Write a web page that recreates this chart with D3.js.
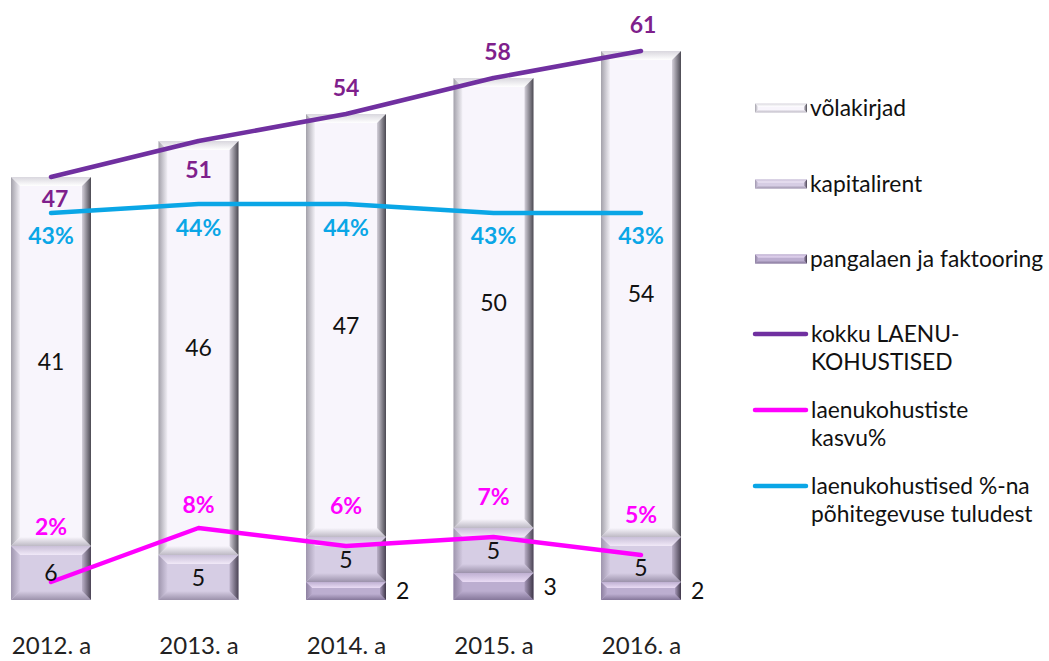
<!DOCTYPE html>
<html><head><meta charset="utf-8">
<script src="https://cdn.jsdelivr.net/npm/d3@7"></script>
<style>
body{margin:0;background:#fff}
svg{display:block}
text{font-family:Lato,"Noto Sans",sans-serif}
</style>
</head><body>
<svg id="c" width="1049" height="661"></svg>
<script>
// ---- data ----
const years = ["2012. a","2013. a","2014. a","2015. a","2016. a"];
const pangalaen = [0,0,2,3,2];          // pangalaen ja faktooring
const kapitalirent = [6,5,5,5,5];
const volakirjad = [41,46,47,50,54];
const kokku = [47,51,54,58,61];          // kokku LAENU-KOHUSTISED
const kasvu = [2,8,6,7,5];               // laenukohustiste kasvu%
const osakaal = [43,44,44,43,43];        // laenukohustised %-na põhitegevuse tuludest

const seriesNames = {
  pangalaen:"pangalaen ja faktooring",
  kapitalirent:"kapitalirent",
  volakirjad:"võlakirjad"
};

// ---- styles ----
const segStyle = {
  volakirjad:  {face:"#F8F5FC", top:"#FFFFFF", topEdge:"#D9D7DE", l0:"#A3A1AA", l1:"#F2F0F6", r0:"#D4D0DA", r1:"#4B4952", bottom:"#BDB9C4"},
  kapitalirent:{face:"#D6CDE4", top:"#F1E9F8", topEdge:"#C9BFD8", l0:"#9F96AE", l1:"#D3CAE1", r0:"#BCB2CA", r1:"#4A4354", bottom:"#9C92AB"},
  pangalaen:   {face:"#BCAED0", top:"#EADCF5", topEdge:"#BFB0D2", l0:"#8D80A0", l1:"#B9ABCC", r0:"#A698B9", r1:"#3E3648", bottom:"#85779A"}
};
const cPurple = "#7030A0", cPurpleLbl = "#7F1F8C", cMag = "#FF00FF", cBlue = "#0AA6E6";

const svg = d3.select("#c");
const x = d3.scalePoint().domain(years).range([51,641]);
const y = d3.scaleLinear().domain([0,60]).range([600,60]);
const barW = 80;

// gradients
const defs = svg.append("defs");
Object.entries(segStyle).forEach(([k,s])=>{
  const gl = defs.append("linearGradient").attr("id","gl-"+k).attr("x1",0).attr("x2",1).attr("y1",0).attr("y2",0);
  gl.append("stop").attr("offset","0%").attr("stop-color",s.l0);
  gl.append("stop").attr("offset","100%").attr("stop-color",s.l1);
  const gr = defs.append("linearGradient").attr("id","gr-"+k).attr("x1",0).attr("x2",1).attr("y1",0).attr("y2",0);
  gr.append("stop").attr("offset","0%").attr("stop-color",s.r0);
  gr.append("stop").attr("offset","100%").attr("stop-color",s.r1);
  const gt = defs.append("linearGradient").attr("id","gt-"+k).attr("x1",0).attr("x2",0).attr("y1",0).attr("y2",1);
  gt.append("stop").attr("offset","0%").attr("stop-color",s.topEdge);
  gt.append("stop").attr("offset","100%").attr("stop-color",s.top);
  const gb = defs.append("linearGradient").attr("id","gb-"+k).attr("x1",0).attr("x2",0).attr("y1",0).attr("y2",1);
  gb.append("stop").attr("offset","0%").attr("stop-color",s.face);
  gb.append("stop").attr("offset","100%").attr("stop-color",s.bottom);
});

function bevelRect(g, key, x0, y0, x1, y1, b){
  const s = segStyle[key];
  const pts = a => a.map(p=>p.join(",")).join(" ");
  g.append("rect").attr("x",x0).attr("y",y0).attr("width",x1-x0).attr("height",y1-y0).attr("fill",s.face);
  g.append("polygon").attr("points",pts([[x0,y0],[x1,y0],[x1-b,y0+b],[x0+b,y0+b]])).attr("fill",`url(#gt-${key})`);
  g.append("polygon").attr("points",pts([[x0,y1],[x1,y1],[x1-b,y1-b],[x0+b,y1-b]])).attr("fill",`url(#gb-${key})`);
  g.append("polygon").attr("points",pts([[x0,y0],[x0+b,y0+b],[x0+b,y1-b],[x0,y1]])).attr("fill",`url(#gl-${key})`);
  g.append("polygon").attr("points",pts([[x1,y0],[x1-b,y0+b],[x1-b,y1-b],[x1,y1]])).attr("fill",`url(#gr-${key})`);
}

// stacked data
const keys = ["pangalaen","kapitalirent","volakirjad"];
const table = years.map((yr,i)=>({year:yr, pangalaen:pangalaen[i], kapitalirent:kapitalirent[i], volakirjad:volakirjad[i]}));
const stacked = d3.stack().keys(keys)(table);

const barsG = svg.append("g");
stacked.forEach(layer=>{
  layer.forEach(d=>{
    const v = d[1]-d[0];
    if(v<=0) return;
    const cx = x(d.data.year);
    const y0 = y(d[1]), y1 = y(d[0]);
    const b = Math.min(9, (y1-y0)/3);
    bevelRect(barsG, layer.key, cx-barW/2, y0, cx+barW/2, y1, b);
  });
});

// category axis
const ax = svg.append("g").attr("transform","translate(0,600)")
  .call(d3.axisBottom(x).tickSize(0).tickPadding(37));
ax.select(".domain").remove();
ax.selectAll("text").attr("font-family","Lato").attr("font-size",24).attr("fill","#222");

// lines
const line = d3.line().x((d,i)=>x(years[i])).y(d=>y(d));
[[kokku,cPurple],[osakaal,cBlue],[kasvu,cMag]].forEach(([arr,col])=>{
  svg.append("path").datum(arr).attr("d",line).attr("fill","none")
    .attr("stroke",col).attr("stroke-width",4.5).attr("stroke-linejoin","round").attr("stroke-linecap","round");
});

// segment value labels
const lblG = svg.append("g").attr("font-size",23).attr("fill","#111").attr("text-anchor","middle");
const kapOffset = [0,0,0,0,8];
stacked.forEach(layer=>{
  layer.forEach((d,i)=>{
    const v = d[1]-d[0];
    if(v<=0) return;
    const cx = x(d.data.year);
    const cy = (y(d[0])+y(d[1]))/2;
    if(layer.key==="pangalaen"){
      lblG.append("text").attr("x",cx+barW/2+10).attr("y",cy).attr("dy","0.35em").attr("text-anchor","start").text(v);
    } else {
      lblG.append("text").attr("x",cx).attr("y",cy+(layer.key==="kapitalirent"?kapOffset[i]:0)).attr("dy","0.35em").text(v);
    }
  });
});

// line labels
const kokkuOff = [22,29,-26,-26,-26];
const kasvuOff = [-55,-23,-40,-40,-40];
const osakaalOff = [23,24,24,23,23];
function lineLabels(arr, offs, col, fmt, dx){
  svg.append("g").selectAll("text").data(arr).join("text")
    .attr("x",(d,i)=>x(years[i])+(dx?dx[i]:0)).attr("y",(d,i)=>y(d)+offs[i]).attr("dy","0.35em")
    .attr("text-anchor","middle").attr("font-size",23).attr("font-weight","bold").attr("fill",col)
    .text(fmt);
}
lineLabels(kokku, kokkuOff, cPurpleLbl, d=>d, [4,0,0,4,2]);
lineLabels(osakaal, osakaalOff, cBlue, d=>d+"%");
lineLabels(kasvu, kasvuOff, cMag, d=>d+"%");

// legend
const lg = svg.append("g").attr("font-size",22.8).attr("fill","#111");
const legBars = [["volakirjad",108],["kapitalirent",184],["pangalaen",259]];
legBars.forEach(([k,cy])=>{
  bevelRect(lg, k, 755, cy-4.5, 807, cy+4.5, 3);
  lg.append("text").attr("x",810).attr("y",cy).attr("dy","0.35em").text(seriesNames[k]);
});
const legLines = [
  [cPurple, 334, ["kokku LAENU-","KOHUSTISED"]],
  [cMag, 410, ["laenukohustiste","kasvu%"]],
  [cBlue, 486, ["laenukohustised %-na","põhitegevuse tuludest"]]
];
legLines.forEach(([col,cy,lines])=>{
  lg.append("line").attr("x1",755).attr("x2",806).attr("y1",cy).attr("y2",cy)
    .attr("stroke",col).attr("stroke-width",4.5).attr("stroke-linecap","round");
  lines.forEach((t,j)=>{
    lg.append("text").attr("x",811).attr("y",cy+j*28).attr("dy","0.35em").text(t);
  });
});
</script>
</body></html>
